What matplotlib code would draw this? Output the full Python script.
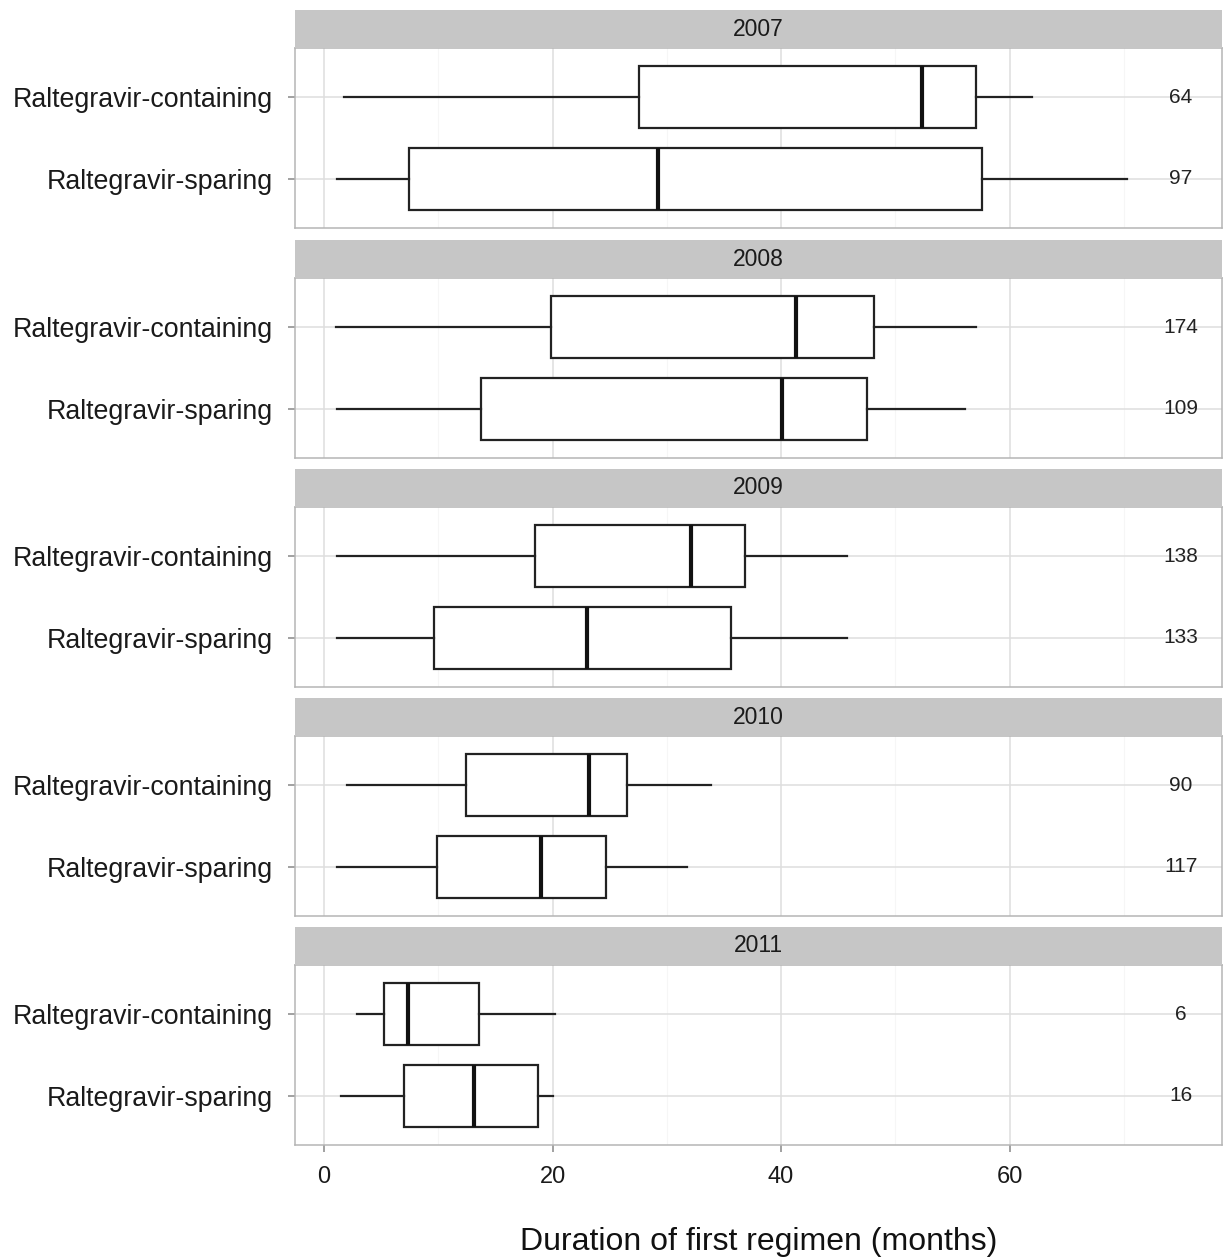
import matplotlib
matplotlib.use("Agg")
import matplotlib.pyplot as plt
from matplotlib.ticker import MultipleLocator

plt.rcParams['font.family'] = ['Liberation Sans', 'DejaVu Sans']

years = ['2007', '2008', '2009', '2010', '2011']
groups = ['Raltegravir-containing', 'Raltegravir-sparing']

# per year: [containing, sparing] -> (whisker low, q1, median, q3, whisker high)
stats = {
    '2007': [(1.7, 27.6, 52.3, 57.1, 62.0), (1.1, 7.4, 29.2, 57.6, 70.3)],
    '2008': [(1.0, 19.9, 41.3, 48.1, 57.1), (1.1, 13.7, 40.1, 47.5, 56.1)],
    '2009': [(1.1, 18.5, 32.1, 36.8, 45.8), (1.1, 9.6, 23.0, 35.6, 45.8)],
    '2010': [(2.0, 12.4, 23.2, 26.5, 33.9), (1.1, 9.9, 19.0, 24.7, 31.8)],
    '2011': [(2.9, 5.2, 7.3, 13.6, 20.2), (1.5, 7.0, 13.1, 18.7, 20.0)],
}
counts = {
    '2007': [64, 97],
    '2008': [174, 109],
    '2009': [138, 133],
    '2010': [90, 117],
    '2011': [6, 16],
}
count_x = 75

W, H = 1228, 1260
fig = plt.figure(figsize=(W / 100, H / 100), dpi=100)

left, right = 295, 1222
panel_tops = [48, 278, 507, 736, 965]
panel_h = 180
strip_h = 38

for i, yr in enumerate(years):
    top = panel_tops[i]
    ax = fig.add_axes([left / W, 1 - (top + panel_h) / H, (right - left) / W, panel_h / H])
    sax = fig.add_axes([left / W, 1 - top / H, (right - left) / W, strip_h / H])
    sax.set_facecolor('#c6c6c6')
    sax.set_xticks([])
    sax.set_yticks([])
    for s in sax.spines.values():
        s.set_visible(False)
    sax.text(0.5, 0.5, yr, ha='center', va='center', fontsize=16.5, color='#1a1a1a',
             transform=sax.transAxes)

    bxp_stats = []
    for g, st in zip(groups, stats[yr]):
        lo, q1, med, q3, hi = st
        bxp_stats.append(dict(whislo=lo, q1=q1, med=med, q3=q3, whishi=hi, fliers=[], label=g))
    # category 0 at top
    pos = [2, 1]
    ax.bxp(bxp_stats, positions=pos, vert=False, widths=0.75, showcaps=False,
           patch_artist=True,
           boxprops=dict(facecolor='white', edgecolor='#222222', linewidth=1.6),
           medianprops=dict(color='#111111', linewidth=3),
           whiskerprops=dict(color='#222222', linewidth=1.6))
    for p, n in zip(pos, counts[yr]):
        ax.text(count_x, p, str(n), ha='center', va='center', fontsize=15, color='#222222')

    ax.set_xlim(-2.55, 78.6)
    ax.set_ylim(0.4, 2.6)
    ax.set_yticks(pos)
    ax.set_yticklabels(groups, fontsize=19.3, color='#1a1a1a')
    ax.xaxis.set_major_locator(MultipleLocator(20))
    ax.xaxis.set_minor_locator(MultipleLocator(10))
    ax.grid(True, which='major', color='#dedede', linewidth=1.1, zorder=0)
    ax.grid(True, which='minor', axis='x', color='#f6f6f6', linewidth=0.8, zorder=0)
    ax.set_axisbelow(True)
    ax.tick_params(axis='both', which='major', length=5, width=1.1, color='#888888', pad=4)
    ax.tick_params(axis='y', pad=11)
    ax.tick_params(axis='x', which='minor', length=0)
    for s in ax.spines.values():
        s.set_color('#b5b5b5')
        s.set_linewidth(1.1)
    if i < len(years) - 1:
        ax.tick_params(axis='x', which='major', length=0, labelbottom=False)
    else:
        ax.set_xticks([0, 20, 40, 60])
        ax.set_xticklabels(['0', '20', '40', '60'], fontsize=17, color='#1a1a1a')
        ax.tick_params(axis='x', pad=10)
        ax.set_xlabel('Duration of first regimen (months)', fontsize=23, color='#111111',
                      labelpad=28)

fig.savefig('out.png', dpi=100)
